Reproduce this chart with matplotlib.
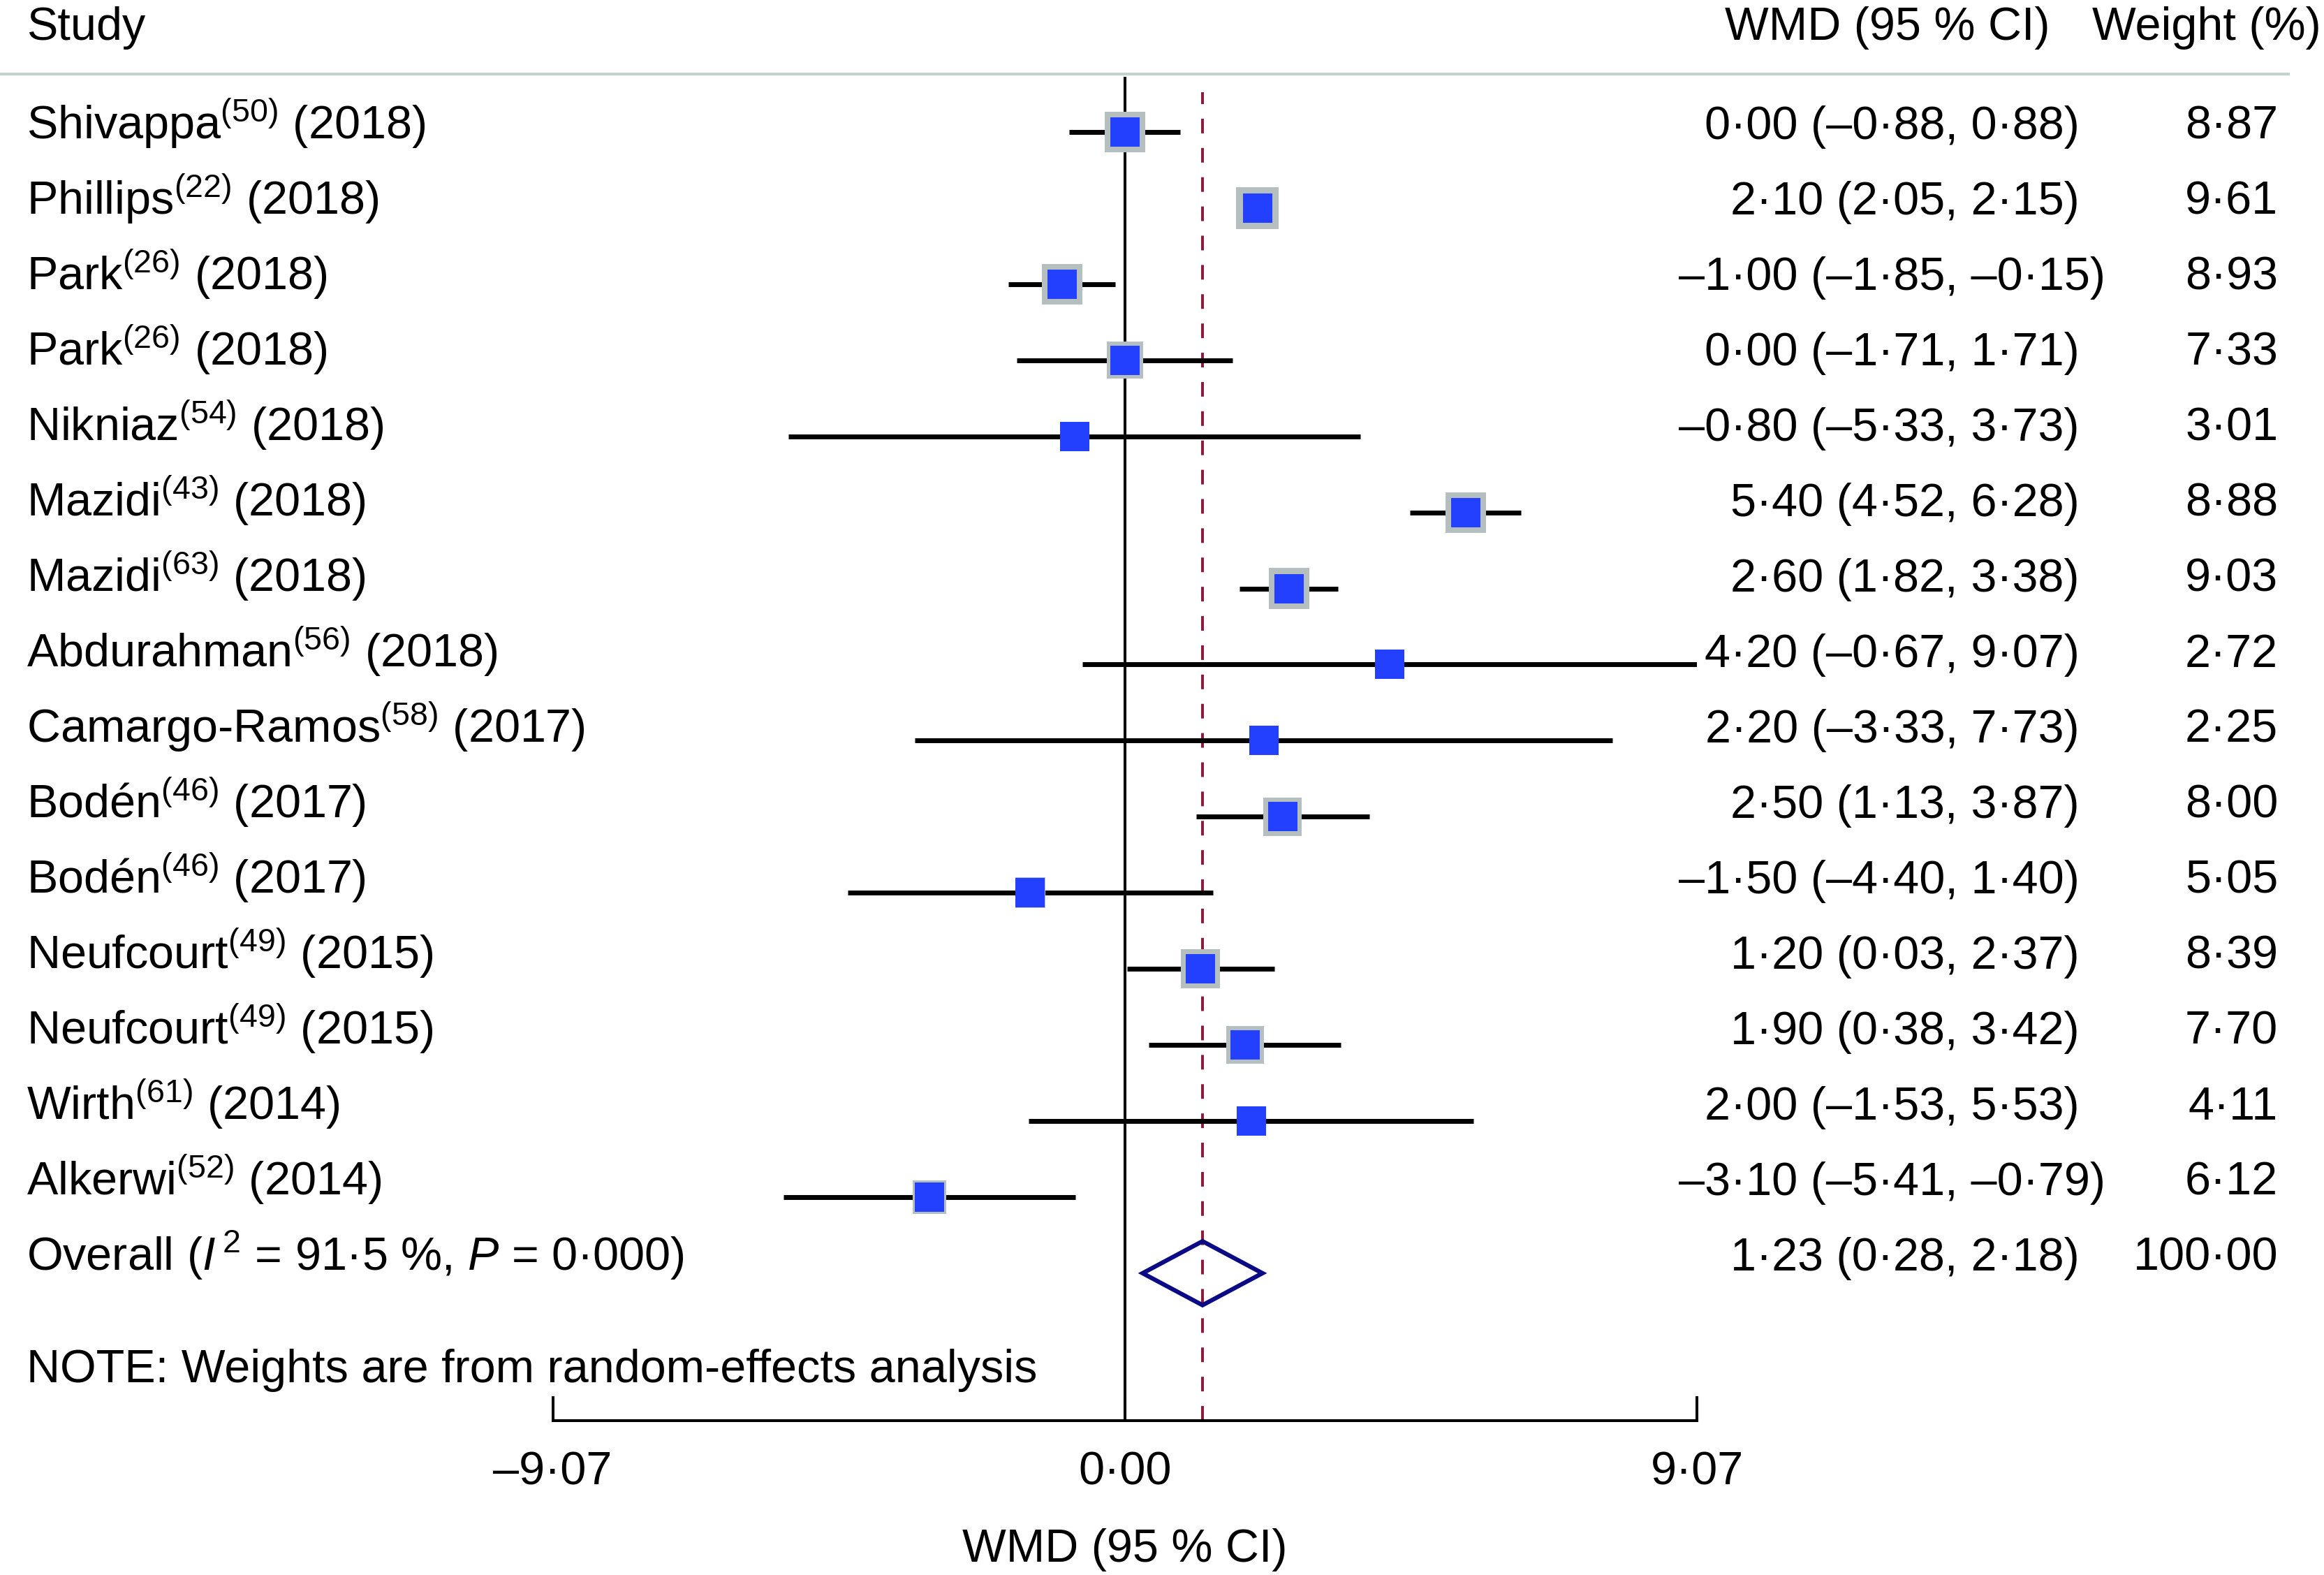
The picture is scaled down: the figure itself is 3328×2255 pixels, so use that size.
import matplotlib
matplotlib.use('Agg')
import matplotlib.pyplot as plt
import matplotlib.transforms as mtransforms
from matplotlib.lines import Line2D
from matplotlib.patches import Polygon
import numpy as np

plt.rcParams.update({
    'font.family': ['Liberation Sans', 'DejaVu Sans'],
    'mathtext.fontset': 'custom',
    'mathtext.rm': 'Liberation Sans',
    'mathtext.it': 'Liberation Sans:italic',
    'mathtext.bf': 'Liberation Sans:bold',
    'mathtext.sf': 'Liberation Sans',
})

# ------------------------------
# Data
# ------------------------------
studies = ['Shivappa', 'Phillips', 'Park', 'Park', 'Nikniaz', 'Mazidi', 'Mazidi', 'Abdurahman',
           'Camargo-Ramos', 'Bodén', 'Bodén', 'Neufcourt', 'Neufcourt', 'Wirth', 'Alkerwi']
refs = [50, 22, 26, 26, 54, 43, 63, 56, 58, 46, 46, 49, 49, 61, 52]
years = [2018, 2018, 2018, 2018, 2018, 2018, 2018, 2018, 2017, 2017, 2017, 2015, 2015, 2014, 2014]
wmd = [0.00, 2.10, -1.00, 0.00, -0.80, 5.40, 2.60, 4.20, 2.20, 2.50, -1.50, 1.20, 1.90, 2.00, -3.10]
ci_lo = [-0.88, 2.05, -1.85, -1.71, -5.33, 4.52, 1.82, -0.67, -3.33, 1.13, -4.40, 0.03, 0.38, -1.53, -5.41]
ci_hi = [0.88, 2.15, -0.15, 1.71, 3.73, 6.28, 3.38, 9.07, 7.73, 3.87, 1.40, 2.37, 3.42, 5.53, -0.79]
weights = [8.87, 9.61, 8.93, 7.33, 3.01, 8.88, 9.03, 2.72, 2.25, 8.00, 5.05, 8.39, 7.70, 4.11, 6.12]

overall_wmd = 1.23
overall_lo = 0.28
overall_hi = 2.18
overall_weight = 100.00
i2 = 91.5
p_value = 0.000

x_limit = 9.07
x_ticks = [-9.07, 0.00, 9.07]


def fmt(v, nd=2):
    return f'{v:.{nd}f}'.replace('-', '\u2013').replace('.', '\u00b7')


# reference image is 1568 x 1062 when shrunk; work in those units for layout
W, H = 1568.0, 1062.0


def fx(x):
    return x / W


def fy(y):
    return 1.0 - y / H


FS = 47.9
fig = plt.figure(figsize=(33.28, 22.55), dpi=100)

ax_top, ax_bot = 52.0, 958.0
row0, row_step = 89.0, 51.3
ax = fig.add_axes([fx(373), fy(ax_bot), fx(1145) - fx(373), (ax_bot - ax_top) / H])
ax.set_xlim(-x_limit, x_limit)
ax.set_ylim((ax_bot - row0) / row_step, (ax_top - row0) / row_step)

n = len(studies)
rows = np.arange(n)

# reference lines
ax.axvline(0, color='black', lw=2.9, zorder=1)
dash_top = (ax_bot - 62) / (ax_bot - ax_top)
ax.axvline(overall_wmd, ymin=0, ymax=dash_top, color='#8b1c3c', lw=2.9,
           dashes=(5.2, 5.2), zorder=1)

# confidence intervals
ax.hlines(rows, ci_lo, ci_hi, color='black', lw=5.0, zorder=2)

# weight boxes (area ~ weight) and point estimates
box_side_pt = 14.0 * np.sqrt(np.array(weights))
ax.scatter(wmd, rows, s=box_side_pt ** 2, marker='s', color='#b5bfbf', lw=0, zorder=3)
ax.scatter(wmd, rows, s=30.0 ** 2, marker='s', color='#2340ff', lw=0, zorder=4)

# overall diamond
h = 0.42
diamond = Polygon([[overall_lo, n], [overall_wmd, n - h], [overall_hi, n], [overall_wmd, n + h]],
                  closed=True, fill=False, edgecolor='#0a0a84', lw=4.5, zorder=4)
ax.add_patch(diamond)

# axis styling
for side in ['left', 'right', 'top']:
    ax.spines[side].set_visible(False)
ax.spines['bottom'].set_linewidth(2.9)
ax.set_yticks([])
ax.set_xticks(x_ticks, [fmt(t) for t in x_ticks])
ax.tick_params(axis='x', direction='in', length=25, width=2.9, labelsize=FS, pad=31)
ax.set_xlabel('WMD (95 % CI)', fontsize=FS, labelpad=35)
ax.patch.set_alpha(0)

# header
fig.text(fx(18), fy(19), 'Study', fontsize=FS, ha='left', va='center')
fig.text(fx(1383), fy(19), 'WMD (95 % CI)', fontsize=FS, ha='right', va='center')
fig.text(fx(1566), fy(19), 'Weight (%)', fontsize=FS, ha='right', va='center')
fig.add_artist(Line2D([0, fx(1544)], [fy(50), fy(50)], color='#c6d0ce', lw=3.0))

# row texts: x in figure coords, y in data rows (text rows are slightly tighter than markers)
tr = mtransforms.blended_transform_factory(fig.transFigure, ax.transData)
comma_x = fx(1321)
weight_x = fx(1537)
text_step = 0.9914
for i in range(n):
    y = 0.09 + text_step * i
    fig.text(fx(18), y, f'{studies[i]}$^{{({refs[i]})}}$ ({years[i]})', fontsize=FS,
             ha='left', va='baseline', transform=tr)
    fig.text(comma_x, y, f'{fmt(wmd[i])} ({fmt(ci_lo[i])},', fontsize=FS,
             ha='right', va='baseline', transform=tr)
    fig.text(comma_x, y, f' {fmt(ci_hi[i])})', fontsize=FS,
             ha='left', va='baseline', transform=tr)
    fig.text(weight_x, y, fmt(weights[i]), fontsize=FS, ha='right', va='baseline', transform=tr)

y = 0.09 + text_step * n
fig.text(fx(18), y, f'Overall ($I^{{\\,2}}$ = {fmt(i2, 1)} %, $P$ = {fmt(p_value, 3)})',
         fontsize=FS, ha='left', va='baseline', transform=tr)
fig.text(comma_x, y, f'{fmt(overall_wmd)} ({fmt(overall_lo)},', fontsize=FS,
         ha='right', va='baseline', transform=tr)
fig.text(comma_x, y, f' {fmt(overall_hi)})', fontsize=FS, ha='left', va='baseline', transform=tr)
fig.text(weight_x, y, fmt(overall_weight), fontsize=FS, ha='right', va='baseline', transform=tr)

fig.text(fx(18), y + 1.47, 'NOTE: Weights are from random-effects analysis', fontsize=FS,
         ha='left', va='baseline', transform=tr)

fig.savefig('out.png', dpi=100, facecolor='white')
